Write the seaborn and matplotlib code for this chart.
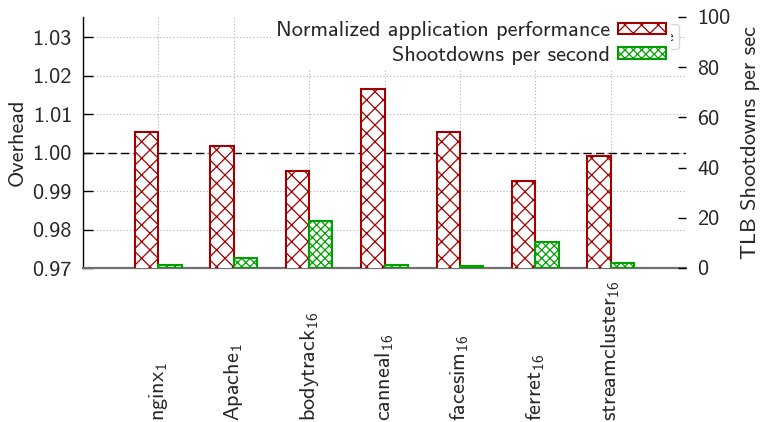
import matplotlib
matplotlib.use("Agg")
import matplotlib.pyplot as plt
import seaborn as sns
import numpy as np

categories = [r"nginx$_1$", r"Apache$_1$", r"bodytrack$_{16}$", r"canneal$_{16}$",
              r"facesim$_{16}$", r"ferret$_{16}$", r"streamcluster$_{16}$"]
performance = [1.0054, 1.0018, 0.9952, 1.0165, 1.0053, 0.9926, 0.9991]
shootdowns = [1.0, 3.9, 18.8, 1.2, 0.9, 10.5, 1.9]
left_ticks = [0.97, 0.98, 0.99, 1.00, 1.01, 1.02, 1.03]
right_ticks = [0, 20, 40, 60, 80, 100]

sns.set_style("white")
plt.rcParams['font.family'] = ['cmss10', 'DejaVu Sans']
plt.rcParams['mathtext.fontset'] = 'custom'
plt.rcParams['mathtext.rm'] = 'cmss10'
plt.rcParams['mathtext.it'] = 'cmss10'
plt.rcParams['mathtext.default'] = 'rm'
plt.rcParams['axes.unicode_minus'] = False
plt.rcParams['hatch.linewidth'] = 0.9

RED = '#a00000'
GREEN = '#00a000'
FS = 16
BW = 0.31

fig = plt.figure(figsize=(7.62, 4.22), dpi=100)
ax = fig.add_axes([83 / 762, 1 - 268 / 422, (686 - 83) / 762, (268 - 17) / 422])
ax2 = ax.twinx()

xs = list(range(len(categories)))
sns.barplot(x=xs, y=performance, ax=ax, width=BW, color='white', edgecolor=RED,
            linewidth=1.5, hatch='xx', label="Normalized application performance",
            native_scale=True, zorder=3)
sns.barplot(x=xs, y=shootdowns, ax=ax2, width=BW, color='white', edgecolor=GREEN,
            linewidth=1.5, hatch='xxxx', label="Shootdowns per second",
            native_scale=True, zorder=3)
for p in ax.patches:
    p.set_x(p.get_x() - p.get_width() / 2)
    p.set_facecolor('white')
    p.set_edgecolor(RED)
for p in ax2.patches:
    p.set_x(p.get_x() + p.get_width() / 2)
    p.set_facecolor('white')
    p.set_edgecolor(GREEN)

ax.set_xlim(-1, 7)
ax.set_ylim(0.97, 1.0352)
ax2.set_ylim(0, 100)

ax.set_yticks(left_ticks)
ax.set_yticklabels([f"{v:.2f}" for v in left_ticks], fontsize=FS)
ax2.set_yticks(right_ticks)
ax2.set_yticklabels([str(v) for v in right_ticks], fontsize=FS)

ax.set_xticks(xs)
ax.set_xticklabels(categories, rotation=90, fontsize=FS, va='bottom', ha='center')
ax.tick_params(axis='x', length=0, pad=110.5)
ax.tick_params(axis='y', direction='in', length=7, width=1, color='black', pad=8)
ax2.tick_params(axis='y', direction='in', length=6, width=1, color='black', pad=8)

ax.grid(True, axis='both', linestyle=(0, (1, 2)), color='#b0b0b0', linewidth=0.8, zorder=0)
ax.set_axisbelow(True)
ax.axhline(1.0, color='black', linewidth=1.0, dashes=(6, 3), zorder=2)

for s in ['top', 'right']:
    ax.spines[s].set_visible(False)
for s in ['top', 'right', 'left', 'bottom']:
    ax2.spines[s].set_visible(False)
ax.spines['left'].set_color('black')
ax.spines['left'].set_linewidth(1.0)
ax.spines['bottom'].set_color('#707070')
ax.spines['bottom'].set_linewidth(1.6)

ax.set_ylabel("Overhead", fontsize=FS, labelpad=4)
ax2.set_ylabel("TLB Shootdowns per sec", fontsize=FS, labelpad=8)

h1, l1 = ax.get_legend_handles_labels()
h2, l2 = ax2.get_legend_handles_labels()
leg = ax2.legend(h1[:1] + h2[:1], l1[:1] + l2[:1], loc='upper right',
                 bbox_to_anchor=(0.975, 1.0), fontsize=FS, markerfirst=False,
                 frameon=True, fancybox=False, framealpha=1, edgecolor='none',
                 facecolor='white',
                 handlelength=2.2, handleheight=0.4, handletextpad=0.35,
                 labelspacing=0.25, borderpad=0.2, borderaxespad=0)
leg.set_zorder(10)

fig.savefig("out.png", dpi=100)
